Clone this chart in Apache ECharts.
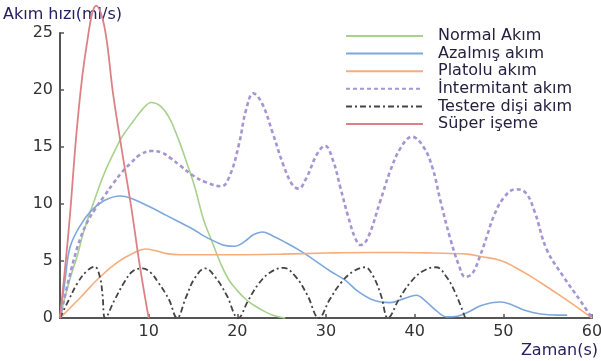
<!DOCTYPE html>
<html>
<head>
<meta charset="utf-8">
<script src="https://cdn.jsdelivr.net/npm/echarts@6/dist/echarts.min.js"></script>
<style>html,body{margin:0;padding:0;background:#fff;}#c{width:601px;height:361px;}</style>
</head>
<body>
<div id="c"></div>
<script>
const seriesNames = ['Normal Akım', 'Azalmış akım', 'Platolu akım', 'İntermitant akım', 'Testere dişi akım', 'Süper işeme'];
const xTicks = [0, 10, 20, 30, 40, 50, 60];
const yTicks = [0, 5, 10, 15, 20, 25];

const normalAkim = [[0,0],[1,3.1],[2,5.6],[2.6,7.4],[4,10.6],[5,12.7],[6.2,14.7],[7,15.9],[8.3,17.3],[9.3,18.3],[10.3,18.9],[11.3,18.6],[12.3,17.6],[13.3,15.8],[14.3,13.6],[15.2,11.5],[16.2,8.6],[17.1,6.8],[18,5],[19,3.4],[20,2.4],[21,1.6],[22,1.05],[23,0.6],[24,0.25],[25.4,0]];
const azalmisAkim = [[0,0],[0.6,3.5],[1.13,6.2],[2.2,8],[3.5,9.4],[5,10.3],[6.8,10.7],[8,10.5],[10,9.8],[12,9.0],[14,8.2],[15.2,7.7],[16.2,7.2],[17.5,6.7],[18.7,6.35],[19.75,6.3],[20.8,6.7],[21.8,7.3],[22.8,7.55],[24,7.2],[25.5,6.6],[27.3,5.8],[29,4.9],[30.5,4.1],[32.2,3.3],[33.5,2.4],[35.4,1.55],[37.2,1.35],[38.8,1.7],[40.2,2.0],[41.2,1.5],[42.5,0.6],[43.6,0.1],[44.8,0.15],[46,0.5],[47.5,1.1],[49.7,1.4],[51,1.15],[52.5,0.65],[54.2,0.35],[56,0.25],[57.2,0.25]];
const platoluAkim = [[0,0],[2.3,1.8],[4.5,3.6],[6.5,4.9],[8.3,5.7],[9.6,6.05],[10.8,5.9],[12,5.65],[13.5,5.55],[15.2,5.55],[20,5.55],[25,5.6],[30,5.7],[35,5.75],[38.4,5.75],[42,5.7],[45.9,5.6],[47.4,5.4],[49.7,5.05],[51.2,4.5],[53,3.7],[55,2.7],[57,1.65],[58.5,0.85],[60,0]];
const intermitantAkim = [[0,0],[1,3.4],[2,6.3],[3,8.3],[4,9.6],[5,10.7],[6,11.8],[7,12.8],[8,13.6],[9,14.3],[10.3,14.65],[11.5,14.5],[12.5,14],[13.5,13.4],[15,12.5],[16.5,11.9],[18.2,11.55],[19.2,12.6],[20.2,15.3],[21,18.3],[21.8,19.7],[22.8,18.8],[24,16.2],[25.2,13.4],[26.2,11.7],[26.9,11.35],[27.8,12.3],[29,14.4],[29.9,15.1],[30.8,13.8],[31.6,11.5],[32.5,8.9],[33.3,7],[33.9,6.4],[34.7,7],[36.1,10.2],[37.2,12.8],[38.4,14.9],[39.7,15.9],[41,15],[42,13.2],[42.9,10.3],[44,7],[45,4.6],[45.7,3.6],[46.5,3.9],[47.4,5.5],[48.2,7.3],[48.9,8.9],[50,10.5],[51.4,11.3],[52.5,11],[53.5,9.4],[54.9,6],[56.8,3.6],[58.7,1.5],[60,0]];
const testereDisiAkim = [[0,0],[1,1.6],[2,3.1],[3,4.1],[3.9,4.5],[4.5,3.6],[4.8,2.0],[5.1,0],[6.1,1.5],[7.3,3.2],[8.2,4.1],[9.3,4.35],[10.2,4.0],[11.1,3.1],[12.3,1.6],[13.2,0],[14.2,1.8],[15.2,3.5],[16.4,4.35],[17.5,3.6],[18.8,2.0],[20.1,0],[21.2,1.5],[22.4,3.0],[23.7,4.0],[25.2,4.4],[26.6,3.6],[27.9,2.0],[29.2,0],[30.4,1.6],[31.7,3.1],[33.1,4.1],[34.4,4.45],[35.3,3.7],[36.2,2.0],[37.0,0],[38.2,1.6],[39.5,3.1],[40.9,4.1],[42.4,4.45],[43.6,3.6],[44.7,2.0],[45.7,0]];
const superIseme = [[0,0],[1,7.9],[2,17.4],[3,23.9],[4.1,27.4],[5,25.6],[6,19.6],[7,14.6],[8,9.9],[9,4.6],[10,0]];

const seriesData = [normalAkim, azalmisAkim, platoluAkim, intermitantAkim, testereDisiAkim, superIseme];
const colors = ['#a9d18e', '#7ea8dc', '#f6ad7b', '#a496d2', '#444444', '#dc8286'];
const widths = [1.6, 1.6, 1.6, 2.6, 1.8, 1.8];
const types = ['solid', 'solid', 'solid', [4, 3], [6, 3, 2, 3], 'solid'];

const chart = echarts.init(document.getElementById('c'), null, {renderer: 'canvas'});
const font = 'DejaVu Sans';
chart.setOption({
  animation: false,
  backgroundColor: '#ffffff',
  grid: {left: 60, right: 9, top: 33, bottom: 43, containLabel: false, outerBoundsMode: 'none'},
  legend: {
    orient: 'vertical', left: 340, top: 23,
    itemWidth: 77, itemHeight: 12, itemGap: 1.6,
    data: seriesNames,
    itemStyle: {opacity: 0},
    textStyle: {fontFamily: font, fontSize: 16, color: '#262040', padding: [0, 0, 0, 10]}
  },
  xAxis: {
    type: 'value', min: xTicks[0], max: xTicks[xTicks.length - 1], interval: 10,
    name: 'Zaman(s)', nameLocation: 'end', nameGap: 6,
    nameTextStyle: {fontFamily: font, fontSize: 16, color: '#262060', align: 'right', verticalAlign: 'top', padding: [25, 0, 0, 0]},
    axisLine: {show: true, lineStyle: {color: '#555', width: 2}},
    axisTick: {show: true, inside: true, length: 4, lineStyle: {color: '#555', width: 1.5}},
    axisLabel: {showMinLabel: false, fontFamily: font, fontSize: 16, color: '#333', margin: 6},
    splitLine: {show: false}
  },
  yAxis: {
    type: 'value', min: yTicks[0], max: yTicks[yTicks.length - 1], interval: 5,
    name: 'Akım hızı(ml/s)', nameLocation: 'end', nameGap: 18,
    nameTextStyle: {fontFamily: font, fontSize: 16, color: '#262060', align: 'left', verticalAlign: 'middle', padding: [0, 0, 0, -57]},
    axisLine: {show: true, lineStyle: {color: '#555', width: 2}},
    axisTick: {show: true, inside: true, length: 4, lineStyle: {color: '#555', width: 1.5}},
    axisLabel: {fontFamily: font, fontSize: 16, color: '#333', margin: 7},
    splitLine: {show: false}
  },
  series: seriesNames.map((n, i) => ({
    name: n, type: 'line', data: seriesData[i], smooth: 0.4,
    symbol: 'none', showSymbol: false, clip: false,
    color: colors[i],
    lineStyle: {color: colors[i], width: widths[i], type: types[i]},
    z: i === 5 ? 3 : 2
  }))
});
</script>
</body>
</html>
